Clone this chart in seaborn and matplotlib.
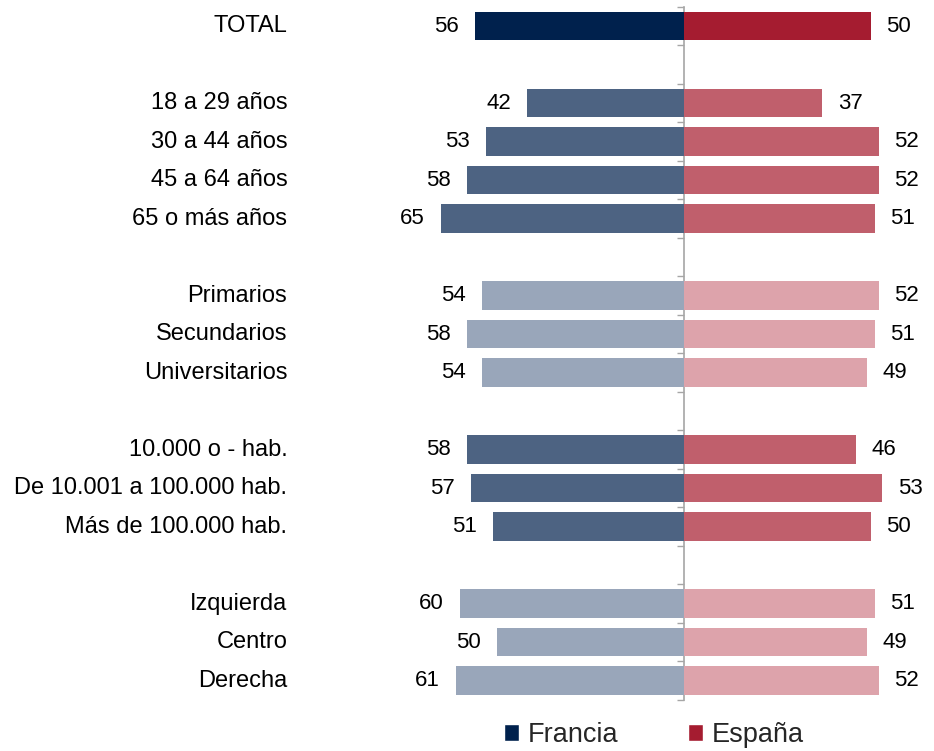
import seaborn as sns
import matplotlib.pyplot as plt
import pandas as pd
from matplotlib.patches import Patch

rows = ["TOTAL", "gap1", "18 a 29 años", "30 a 44 años", "45 a 64 años", "65 o más años",
        "gap2", "Primarios", "Secundarios", "Universitarios",
        "gap3", "10.000 o - hab.", "De 10.001 a 100.000 hab.", "Más de 100.000 hab.",
        "gap4", "Izquierda", "Centro", "Derecha"]
francia = [56, None, 42, 53, 58, 65, None, 54, 58, 54, None, 58, 57, 51, None, 60, 50, 61]
espana = [50, None, 37, 52, 52, 51, None, 52, 51, 49, None, 46, 53, 50, None, 51, 49, 52]
# shade group of each row: 0 total, 1 medium, 2 light
shade = [0, None, 1, 1, 1, 1, None, 2, 2, 2, None, 1, 1, 1, None, 2, 2, 2]

fr_colors = ["#00214D", "#4D6382", "#99A6BA"]
es_colors = ["#A51C30", "#C05F6C", "#DDA3AB"]

sns.set_theme(style='white')
plt.rcParams['font.family'] = ['Liberation Sans', 'DejaVu Sans']

df = pd.DataFrame({'row': rows, 'francia': francia, 'espana': espana, 'shade': shade}).dropna()
fr_pal = {r: fr_colors[int(s)] for r, s in zip(df['row'], df['shade'])}
es_pal = {r: es_colors[int(s)] for r, s in zip(df['row'], df['shade'])}
df['francia_neg'] = -df['francia']

fig = plt.figure(figsize=(9.34, 7.51), dpi=100)
ax = fig.add_axes([0.452, 0.0682, 0.5407, 0.9228])

sns.barplot(data=df, x='francia_neg', y='row', order=rows, hue='row', palette=fr_pal,
            legend=False, width=0.73, saturation=1, linewidth=0, ax=ax)
sns.barplot(data=df, x='espana', y='row', order=rows, hue='row', palette=es_pal,
            legend=False, width=0.73, saturation=1, linewidth=0, ax=ax)

xmin, xmax = -70, 65
ax.set_xlim(xmin, xmax)
ax.set_ylim(len(rows) - 0.5, -0.5)
ax.set_xlabel('')
ax.set_ylabel('')
ax.set_xticks([])
ax.set_yticks([])
for s in ax.spines.values():
    s.set_visible(False)

# category labels
for i, r in enumerate(rows):
    if not r.startswith('gap'):
        ax.text(-0.267, i, r, transform=ax.get_yaxis_transform(), ha='right', va='center',
                fontsize=17, color='#000000')

# value labels
for i, (f, e) in enumerate(zip(francia, espana)):
    if f is None:
        continue
    ax.annotate(str(f), (-f, i), xytext=(-11.5, 0), textcoords='offset points',
                ha='right', va='center', fontsize=16, color='#000000')
    ax.annotate(str(e), (e, i), xytext=(11, 0), textcoords='offset points',
                ha='left', va='center', fontsize=16, color='#000000')

# center axis line with boundary ticks
sec = ax.secondary_yaxis(-xmin / (xmax - xmin))
for s in sec.spines.values():
    s.set_color('#A6A6A6')
    s.set_linewidth(1.2)
sec.yaxis.set_ticks_position('left')
sec.spines['left'].set_visible(True)
sec.spines['right'].set_visible(False)
sec.set_yticks([i - 0.5 for i in range(len(rows) + 1)])
sec.set_yticklabels([])
sec.tick_params(axis='y', which='major', left=True, right=False, direction='out',
                length=5, width=1, color='#A6A6A6')

handles = [Patch(facecolor=fr_colors[0], label='Francia'),
           Patch(facecolor=es_colors[0], label='España')]
fig.legend(handles=handles, loc='center', bbox_to_anchor=(654 / 934, 1 - 735 / 751),
           ncol=2, frameon=False, fontsize=19.5, handlelength=0.55, handleheight=0.55,
           handletextpad=0.3, columnspacing=2.6)

plt.savefig('out.png', dpi=100)
plt.close()
